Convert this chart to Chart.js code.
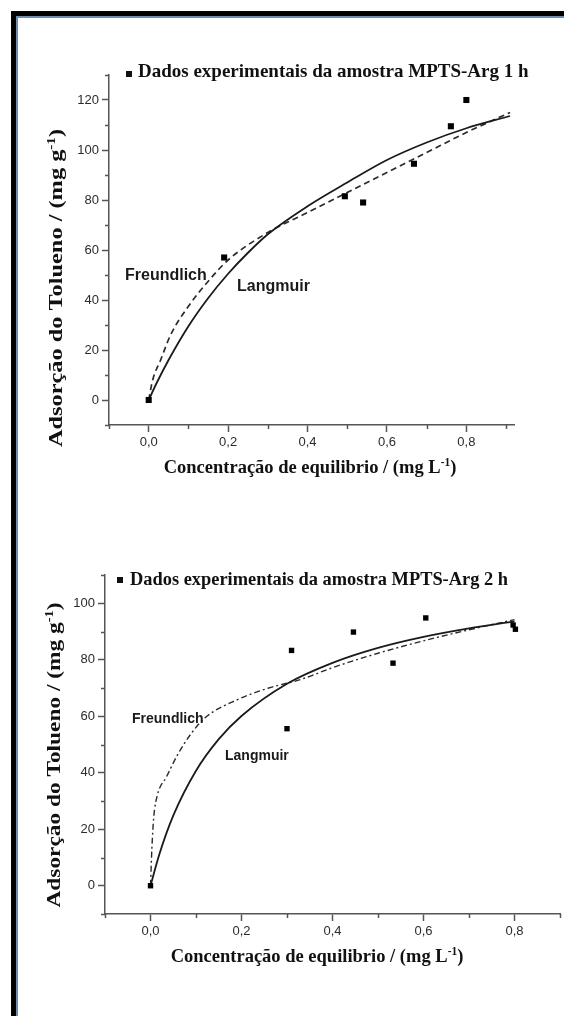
<!DOCTYPE html>
<html>
<head>
<meta charset="utf-8">
<script src="https://cdn.jsdelivr.net/npm/chart.js@4"></script>
<style>
html, body { margin: 0; padding: 0; background: #fff; }
body { width: 564px; height: 1016px; position: relative; overflow: hidden; }
.frame { position: absolute; left: 11px; top: 11px; width: 600px; height: 1100px; border-top: 5px solid #000; border-left: 5px solid #000; }
.frame-inner { position: absolute; left: 0; top: 0; right: 0; bottom: 0; border-top: 2px solid #6f8db3; border-left: 2px solid #6f8db3; }
.box { position: absolute; left: 0; width: 564px; }
#box1 { top: 0; height: 500px; }
#box2 { top: 500px; height: 516px; }
</style>
</head>
<body>
<div class="frame"><div class="frame-inner"></div></div>
<div class="box" id="box1"><canvas id="chart1"></canvas></div>
<div class="box" id="box2"><canvas id="chart2"></canvas></div>
<script>
// MPTS-Arg 1 h
const scatter1X = [0, 0.19, 0.494, 0.54, 0.668, 0.761, 0.80];
const scatter1Y = [0, 57, 81.5, 79, 94.5, 109.5, 120];
const langmuir1X = [0, 0.02, 0.05, 0.1, 0.15, 0.2, 0.25, 0.3, 0.4, 0.5, 0.6, 0.7, 0.8, 0.91];
const langmuir1Y = [0, 6.8, 16, 29.5, 40.8, 50.5, 58.9, 66.3, 77.5, 87, 96, 103, 108.7, 113.6];
const freundlich1X = [0, 0.01, 0.03, 0.055, 0.1, 0.15, 0.2, 0.3, 0.4, 0.5, 0.6, 0.7, 0.8, 0.91];
const freundlich1Y = [0, 8, 16, 26, 37.5, 47.5, 56, 67, 75, 83, 91, 99, 107, 115];

// MPTS-Arg 2 h
const scatter2X = [0, 0.30, 0.31, 0.446, 0.533, 0.605, 0.797, 0.802];
const scatter2Y = [0, 55.6, 83.3, 89.8, 78.8, 94.8, 92.3, 90.8];
const langmuir2X = [0, 0.02, 0.05, 0.1, 0.15, 0.2, 0.3, 0.4, 0.5, 0.6, 0.7, 0.8];
const langmuir2Y = [0, 11.4, 24.8, 40.7, 51.9, 60.1, 71.5, 78.9, 84.2, 88.1, 91.1, 93.6];
const freundlich2X = [0, 0.003, 0.007, 0.015, 0.035, 0.06, 0.09, 0.12, 0.19, 0.26, 0.33, 0.4, 0.5, 0.6, 0.7, 0.8];
const freundlich2Y = [0, 13, 24, 32, 38.5, 46.5, 54, 59.5, 65.8, 70, 73, 77.2, 82.3, 86.7, 90.6, 94.2];

// ticks
const xTicks = [0, 0.2, 0.4, 0.6, 0.8];
const xMinor1 = [-0.1, 0.1, 0.3, 0.5, 0.7, 0.9];
const xMinor2 = [-0.1, 0.1, 0.3, 0.5, 0.7, 0.9];
const yTicks1 = [0, 20, 40, 60, 80, 100, 120];
const yMinor1 = [-10, 10, 30, 50, 70, 90, 110, 130];
const yTicks2 = [0, 20, 40, 60, 80, 100];
const yMinor2 = [-10, 10, 30, 50, 70, 90, 110];

// texts
const legend1Text = 'Dados experimentais da amostra MPTS-Arg 1 h';
const legend2Text = 'Dados experimentais da amostra MPTS-Arg 2 h';
const yTitleParts = ['Adsorção do Tolueno / (mg g', '-1', ')'];
const xTitleParts = ['Concentração de equilibrio / (mg L', '-1', ')'];

const pts = (xs, ys) => xs.map((x, i) => ({ x: x, y: ys[i] }));

function partsWidth(ctx, parts, size) {
    let w = 0;
    parts.forEach((p, i) => {
        ctx.font = `bold ${i === 1 ? size * 0.62 : size}px "Liberation Serif"`;
        w += ctx.measureText(p).width;
    });
    return w;
}

function drawParts(ctx, parts, x, y, size) {
    let cx = x;
    parts.forEach((p, i) => {
        const sup = i === 1;
        ctx.font = `bold ${sup ? size * 0.62 : size}px "Liberation Serif"`;
        ctx.fillText(p, cx, sup ? y - size * 0.38 : y);
        cx += ctx.measureText(p).width;
    });
}

const overlay = {
    id: 'overlay',
    afterDraw(chart, args, o) {
        const ctx = chart.ctx;
        const area = chart.chartArea;
        const xs = chart.scales.x;
        const ys = chart.scales.y;
        ctx.save();

        // minor ticks
        ctx.strokeStyle = '#555';
        ctx.lineWidth = 1.5;
        ctx.beginPath();
        o.minorX.forEach(v => {
            const px = Math.round(xs.getPixelForValue(v)) + 0.5;
            ctx.moveTo(px, area.bottom);
            ctx.lineTo(px, area.bottom + 4);
        });
        o.minorY.forEach(v => {
            const py = Math.round(ys.getPixelForValue(v)) + 0.5;
            ctx.moveTo(area.left, py);
            ctx.lineTo(area.left - 4, py);
        });
        ctx.stroke();

        ctx.fillStyle = '#111';
        ctx.textAlign = 'left';
        ctx.textBaseline = 'alphabetic';

        // legend
        const lg = o.legend;
        ctx.fillRect(lg.boxX, lg.boxY, lg.box, lg.box);
        ctx.font = `bold ${lg.size}px "Liberation Serif"`;
        ctx.fillText(lg.text, lg.x, lg.y);

        // curve labels
        ctx.fillStyle = '#1a1a1a';
        o.labels.forEach(l => {
            ctx.font = `bold ${l.size}px "Liberation Sans"`;
            ctx.fillText(l.text, l.x, l.y);
        });

        // x title
        ctx.fillStyle = '#111';
        const xt = o.xTitle;
        const xw = partsWidth(ctx, xTitleParts, xt.size);
        drawParts(ctx, xTitleParts, xt.x - xw / 2, xt.y, xt.size);

        // y title, stretched along its length
        const yt = o.yTitle;
        const yw = partsWidth(ctx, yTitleParts, yt.size);
        ctx.translate(yt.x, yt.y);
        ctx.rotate(-Math.PI / 2);
        ctx.scale(yt.len / yw, 1);
        drawParts(ctx, yTitleParts, -yw / 2, 0, yt.size);

        ctx.restore();
    }
};

function axis(min, max, ticks, fmt, width, height, tickLen, pad) {
    return {
        type: 'linear',
        min: min,
        max: max,
        bounds: 'data',
        afterBuildTicks: s => { s.ticks = ticks.map(v => ({ value: v })); },
        afterFit: s => {
            if (width) s.width = width;
            if (height) s.height = height;
        },
        ticks: {
            callback: fmt,
            autoSkip: false,
            maxRotation: 0,
            padding: pad,
            color: '#2b2b2b',
            font: { family: 'Liberation Sans', size: 13 }
        },
        grid: {
            drawOnChartArea: false,
            tickLength: tickLen,
            tickColor: '#555',
            tickWidth: 1.5
        },
        border: { color: '#555', width: 1.5 }
    };
}

const fmtX = v => v.toFixed(1).replace('.', ',');
const fmtY = v => String(v);

function makeChart(id, d) {
    return new Chart(document.getElementById(id), {
        type: 'scatter',
        data: {
            datasets: [{
                label: 'Dados experimentais',
                data: pts(d.sx, d.sy),
                pointStyle: 'rect',
                pointRadius: d.pointR,
                pointBackgroundColor: '#000',
                pointBorderWidth: 0
            }, {
                label: 'Langmuir',
                data: pts(d.lx, d.ly),
                showLine: true,
                pointRadius: 0,
                borderColor: '#1a1a1a',
                borderWidth: 1.8,
                cubicInterpolationMode: 'monotone'
            }, {
                label: 'Freundlich',
                data: pts(d.fx, d.fy),
                showLine: true,
                pointRadius: 0,
                borderColor: '#2a2a2a',
                borderWidth: d.fw,
                borderDash: d.dash,
                cubicInterpolationMode: 'monotone'
            }]
        },
        options: {
            responsive: true,
            maintainAspectRatio: false,
            animation: false,
            layout: { padding: d.padding },
            scales: {
                x: axis(d.xMin, d.xMax, xTicks, fmtX, 0, 40, 7, 3),
                y: axis(d.yMin, d.yMax, d.yTicks, fmtY, 40, 0, 7, 3)
            },
            plugins: {
                legend: { display: false },
                tooltip: { enabled: false },
                overlay: d.overlay
            }
        },
        plugins: [overlay]
    });
}

makeChart('chart1', {
    sx: scatter1X, sy: scatter1Y, lx: langmuir1X, ly: langmuir1Y, fx: freundlich1X, fy: freundlich1Y,
    pointR: 4.3, fw: 1.7, dash: [6, 4],
    xMin: -0.1, xMax: 0.92, yMin: -10, yMax: 130, yTicks: yTicks1,
    padding: { left: 69, top: 75, right: 50, bottom: 35 },
    overlay: {
        minorX: xMinor1, minorY: yMinor1,
        legend: { text: legend1Text, size: 19, x: 138, y: 77, boxX: 126, boxY: 71, box: 6 },
        labels: [
            { text: 'Freundlich', size: 16, x: 125, y: 280 },
            { text: 'Langmuir', size: 16, x: 237, y: 291 }
        ],
        xTitle: { x: 310, y: 473, size: 18.5 },
        yTitle: { x: 62, y: 288, size: 18.5, len: 318 }
    }
});

makeChart('chart2', {
    sx: scatter2X, sy: scatter2Y, lx: langmuir2X, ly: langmuir2Y, fx: freundlich2X, fy: freundlich2Y,
    pointR: 3.8, fw: 1.4, dash: [6, 3, 2, 3],
    xMin: -0.1, xMax: 0.9, yMin: -10, yMax: 110, yTicks: yTicks2,
    padding: { left: 65, top: 75, right: 2, bottom: 62 },
    overlay: {
        minorX: xMinor2, minorY: yMinor2,
        legend: { text: legend2Text, size: 18.4, x: 130, y: 85, boxX: 117, boxY: 77, box: 6 },
        labels: [
            { text: 'Freundlich', size: 14, x: 132, y: 223 },
            { text: 'Langmuir', size: 14, x: 225, y: 260 }
        ],
        xTitle: { x: 317, y: 462, size: 18.5 },
        yTitle: { x: 60, y: 255, size: 18.5, len: 305 }
    }
});
</script>
</body>
</html>
